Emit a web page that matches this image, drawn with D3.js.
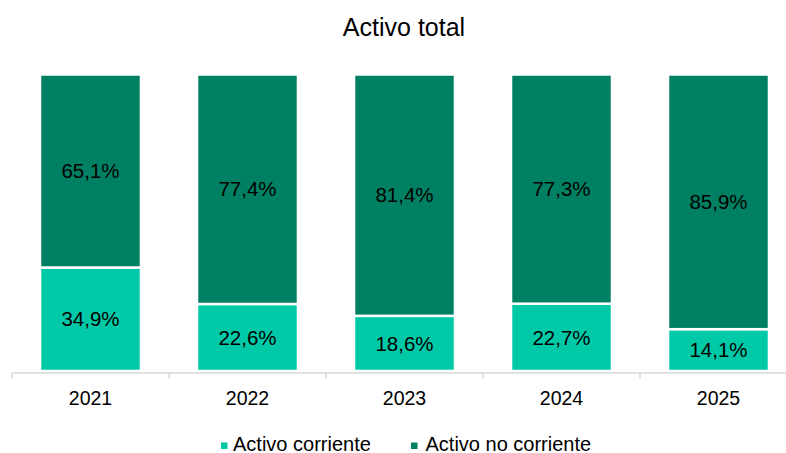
<!DOCTYPE html>
<html>
<head>
<meta charset="utf-8">
<script src="https://cdn.jsdelivr.net/npm/d3@7"></script>
<style>
  body { margin: 0; background: #fff; }
  svg { display: block; font-family: "Liberation Sans", Arial, sans-serif; }
</style>
</head>
<body>
<div id="chart"></div>
<script>
// data
const years = ["2021", "2022", "2023", "2024", "2025"];
const corriente = [34.9, 22.6, 18.6, 22.7, 14.1];
const noCorriente = [65.1, 77.4, 81.4, 77.3, 85.9];
const seriesNames = ["Activo corriente", "Activo no corriente"];
const colors = ["#00c9a7", "#008062"];

const w = 786, h = 453;

const svg = d3.select("#chart").append("svg")
  .attr("width", w)
  .attr("height", h);

const xScale = d3.scaleBand()
  .domain(years)
  .range([12, 797])
  .paddingInner(0.357)
  .paddingOuter(0.1785);

const yScale = d3.scaleLinear()
  .domain([0, 100])
  .range([371, 74.5]);

const rows = years.map((y, i) => ({ year: y, corriente: corriente[i], noCorriente: noCorriente[i] }));
const stacked = d3.stack().keys(["corriente", "noCorriente"])(rows);

// title
svg.append("text")
  .attr("x", 404)
  .attr("y", 36)
  .attr("text-anchor", "middle")
  .attr("font-size", "25px")
  .attr("fill", "#000")
  .text("Activo total");

// bars
const layers = svg.selectAll("g.layer").data(stacked).enter().append("g")
  .attr("class", "layer")
  .attr("fill", (d, i) => colors[i]);

layers.selectAll("rect").data(d => d).enter().append("rect")
  .attr("x", d => xScale(d.data.year))
  .attr("width", xScale.bandwidth())
  .attr("y", d => yScale(d[1]))
  .attr("height", d => yScale(d[0]) - yScale(d[1]))
  .attr("stroke", "#fff")
  .attr("stroke-width", 2.5);

// value labels
layers.selectAll("text").data(d => d).enter().append("text")
  .attr("x", d => xScale(d.data.year) + xScale.bandwidth() / 2)
  .attr("y", d => (yScale(d[0]) + yScale(d[1])) / 2)
  .attr("dy", "0.35em")
  .attr("text-anchor", "middle")
  .attr("font-size", "20.5px")
  .attr("fill", "#000")
  .text(d => (d[1] - d[0]).toFixed(1).replace(".", ",") + "%");

// x axis
const xAxis = d3.axisBottom(xScale).tickSize(0).tickPadding(18.7);
const gx = svg.append("g")
  .attr("transform", "translate(0,372.5)")
  .call(xAxis);
gx.select(".domain").attr("stroke", "#d9d9d9").attr("stroke-width", 1.5);
gx.selectAll("text").attr("font-size", "19.5px").attr("fill", "#000")
  .attr("font-family", "Liberation Sans, Arial, sans-serif");

// tick marks between categories
const bounds = [12].concat(years.map(y => xScale(y) + xScale.bandwidth() / 2 + xScale.step() / 2));
gx.selectAll("line.sep").data(bounds).enter().append("line")
  .attr("class", "sep")
  .attr("x1", d => d).attr("x2", d => d)
  .attr("y1", 0).attr("y2", 6)
  .attr("stroke", "#d9d9d9")
  .attr("stroke-width", 1.5);

// legend
const legendX = [221, 411];
const legend = svg.selectAll("g.legend").data(seriesNames).enter().append("g")
  .attr("class", "legend")
  .attr("transform", (d, i) => "translate(" + legendX[i] + ",0)");
legend.append("rect")
  .attr("x", 0).attr("y", 442.5)
  .attr("width", 6.5).attr("height", 6.5)
  .attr("fill", (d, i) => colors[i]);
legend.append("text")
  .attr("x", (d, i) => i === 0 ? 12 : 14.5)
  .attr("y", 450.5)
  .attr("font-size", "20px")
  .attr("fill", "#000")
  .text(d => d);
</script>
</body>
</html>
